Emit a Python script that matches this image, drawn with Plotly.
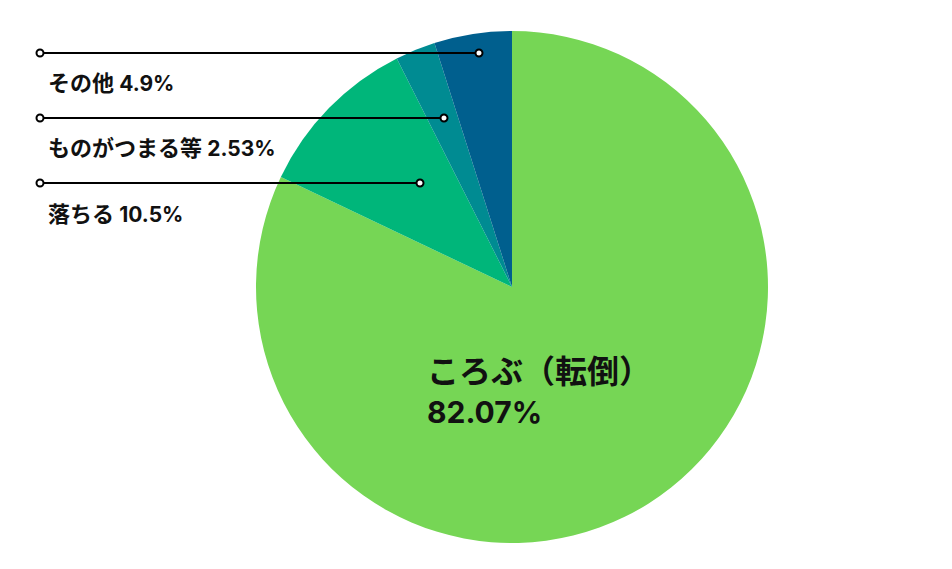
import plotly.graph_objects as go

labels = ["ころぶ（転倒）", "落ちる", "ものがつまる等", "その他"]
values = [82.07, 10.5, 2.53, 4.9]
colors = ["#76D655", "#00B67A", "#008B92", "#005F8E"]
side_names = ["落ちる", "ものがつまる等", "その他"]
side_pcts = ["10.5%", "2.53%", "4.9%"]
main_name = "ころぶ（転倒）"
main_pct = "82.07%"

W, H = 952, 569
OFF = 8  # page body margin; coordinates below are window pixels
FONT = "Inter, Noto Sans CJK JP"

cx, cy, r = 512, 287, 256
fig = go.Figure()
fig.add_trace(go.Pie(
    labels=labels, values=values, sort=False, direction="clockwise", rotation=0,
    marker=dict(colors=colors, line=dict(width=0)), textinfo="none",
    hoverinfo="label+percent", showlegend=False,
    domain=dict(x=[(cx - r - OFF) / W, (cx + r - OFF) / W],
                y=[(H - (cy + r - OFF)) / H, (H - (cy - r - OFF)) / H]),
))

# leader lines (window pixel coordinates)
lines = [(40, 420, 183), (40, 444, 118), (40, 479, 53)]
text_y = [214, 148, 83]
shapes = []
annotations = []
for (x0, x1, y), ty, name, pct in zip(lines, text_y, side_names, side_pcts):
    shapes.append(dict(type="line", xref="x", yref="y", x0=x0, x1=x1, y0=y, y1=y,
                       line=dict(color="black", width=2), layer="above"))
    for px in (x0, x1):
        shapes.append(dict(type="circle", xref="x", yref="y", x0=px - 3.5, x1=px + 3.5,
                           y0=y - 3.5, y1=y + 3.5, fillcolor="white",
                           line=dict(color="black", width=2), layer="above"))
    annotations.append(dict(x=46, y=ty, xref="x", yref="y",
                            text=f"<b>{name} <span style='font-size:21px'>{pct}</span></b>",
                            showarrow=False, xanchor="left", yanchor="middle",
                            font=dict(family=FONT, size=22, color="#111111")))

annotations.append(dict(x=425, y=391, xref="x", yref="y",
                        text=(f"<b><span style='font-size:32px'>{main_name}</span><br>"
                              f"<span style='font-size:30px'>{main_pct}</span></b>"),
                        showarrow=False, xanchor="left", yanchor="middle", align="left",
                        font=dict(family=FONT, size=31, color="#111111")))

fig.update_layout(
    width=W, height=H, margin=dict(l=0, r=0, t=0, b=0),
    paper_bgcolor="white", plot_bgcolor="rgba(0,0,0,0)",
    xaxis=dict(range=[OFF, W + OFF], visible=False, fixedrange=True),
    yaxis=dict(range=[H + OFF, OFF], visible=False, fixedrange=True),
    shapes=shapes, annotations=annotations,
)

fig.write_html("out.html")
